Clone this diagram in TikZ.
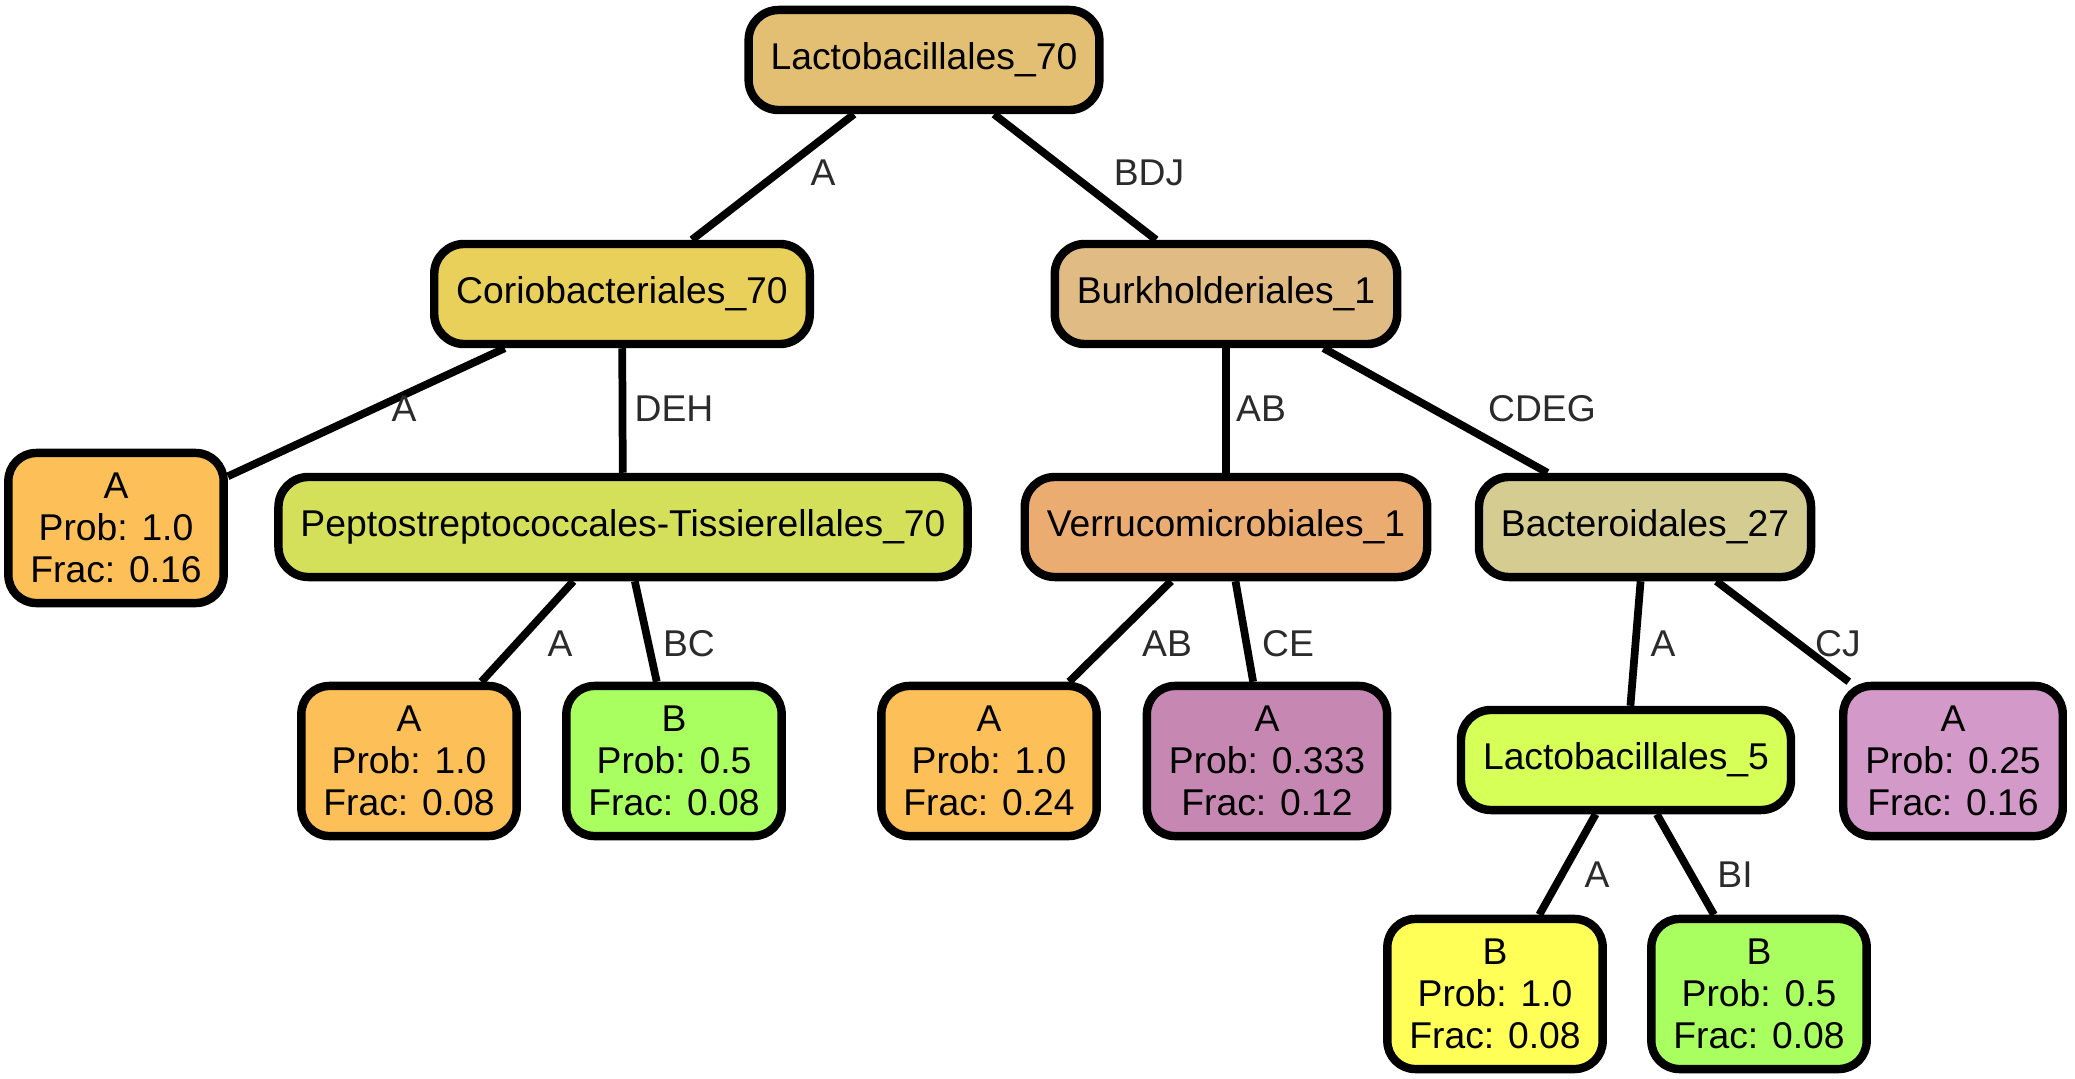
\documentclass[tikz,border=0pt]{standalone}
\usepackage{fontspec}
\setmainfont{Liberation Sans}
\definecolor{rootfill}{HTML}{E2BF73}
\definecolor{coriofill}{HTML}{E8D05A}
\definecolor{burkfill}{HTML}{E0BC84}
\definecolor{peptofill}{HTML}{D4DF5A}
\definecolor{verrufill}{HTML}{EBAC72}
\definecolor{bactfill}{HTML}{D4CC90}
\definecolor{lactofill}{HTML}{D6FF57}
\definecolor{orangefill}{HTML}{FDBF57}
\definecolor{greenfill}{HTML}{A9FF60}
\definecolor{yellowfill}{HTML}{FFFF57}
\definecolor{mauvefill}{HTML}{C687B3}
\definecolor{pinkfill}{HTML}{D399C8}
\definecolor{labgray}{HTML}{2B2B2B}
\tikzset{
  taxon/.style={draw, line width=2.4pt, rounded corners=0.3cm, inner xsep=0.22cm,
    minimum height=1cm, font=\fontsize{10.6}{12.7}\selectfont},
  leaf/.style={taxon, align=center, minimum width=2.12cm, minimum height=1.5cm,
    rounded corners=0.28cm, font=\fontsize{10.6}{11.9}\selectfont},
  edge/.style={line width=2.2pt},
  elab/.style={text=labgray, font=\fontsize{10.6}{12.7}\selectfont}
}
\begin{document}
\begin{tikzpicture}[x=0.01cm, y=-0.01cm]
		\useasboundingbox (0,0) rectangle (2075,1079);
		% inner taxa
		\node[taxon, fill=rootfill] (lacto70) at (924,60) {Lactobacillales\_70};
		\node[taxon, fill=coriofill] (corio) at (622,294) {Coriobacteriales\_70};
		\node[taxon, fill=burkfill] (burk) at (1226,294) {Burkholderiales\_1};
		\node[taxon, fill=peptofill] (pepto) at (623,527) {Peptostreptococcales-Tissierellales\_70};
		\node[taxon, fill=verrufill] (verru) at (1226,527) {Verrucomicrobiales\_1};
		\node[taxon, fill=bactfill] (bact) at (1645,527) {Bacteroidales\_27};
		\node[taxon, fill=lactofill] (lacto5) at (1626,760) {Lactobacillales\_5};
		% leaves
		\node[leaf, fill=orangefill] (corioA) at (116,528) {A\\Prob: 1.0\\Frac: 0.16};
		\node[leaf, fill=orangefill] (peptoA) at (409,761) {A\\Prob: 1.0\\Frac: 0.08};
		\node[leaf, fill=greenfill] (peptoB) at (674,761) {B\\Prob: 0.5\\Frac: 0.08};
		\node[leaf, fill=orangefill] (verruA) at (989,761) {A\\Prob: 1.0\\Frac: 0.24};
		\node[leaf, fill=mauvefill] (verruB) at (1267,761) {A\\Prob: 0.333\\Frac: 0.12};
		\node[leaf, fill=pinkfill] (bactA) at (1953,761) {A\\Prob: 0.25\\Frac: 0.16};
		\node[leaf, fill=yellowfill] (lactoA) at (1495,994) {B\\Prob: 1.0\\Frac: 0.08};
		\node[leaf, fill=greenfill] (lactoB) at (1759,994) {B\\Prob: 0.5\\Frac: 0.08};
		% edges
		\draw[edge] (lacto70) -- (corio) node[elab] at (823,173) {A};
		\draw[edge] (lacto70) -- (burk) node[elab] at (1149,173) {BDJ};
		\draw[edge] (corio) -- (corioA) node[elab] at (404,409) {A};
		\draw[edge] (corio) -- (pepto) node[elab] at (674,409) {DEH};
		\draw[edge] (burk) -- (verru) node[elab] at (1261,409) {AB};
		\draw[edge] (burk) -- (bact) node[elab] at (1542,409) {CDEG};
		\draw[edge] (pepto) -- (peptoA) node[elab] at (560,644) {A};
		\draw[edge] (pepto) -- (peptoB) node[elab] at (689,644) {BC};
		\draw[edge] (verru) -- (verruA) node[elab] at (1167,644) {AB};
		\draw[edge] (verru) -- (verruB) node[elab] at (1288,644) {CE};
		\draw[edge] (bact) -- (lacto5) node[elab] at (1663,644) {A};
		\draw[edge] (bact) -- (bactA) node[elab] at (1838,644) {CJ};
		\draw[edge] (lacto5) -- (lactoA) node[elab] at (1597,875) {A};
		\draw[edge] (lacto5) -- (lactoB) node[elab] at (1735,875) {BI};
\end{tikzpicture}
\end{document}
